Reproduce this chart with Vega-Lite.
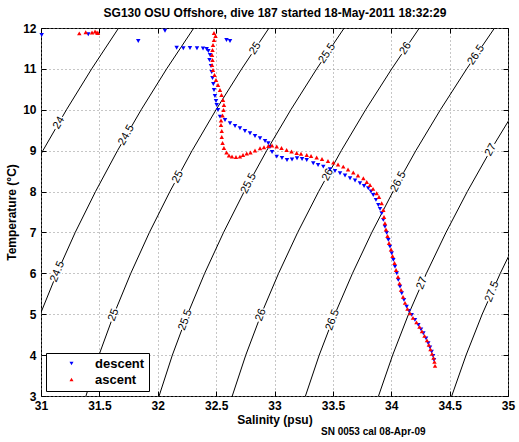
{
 "$schema": "https://vega.github.io/schema/vega-lite/v6.json",
 "width": 467, "height": 368,
 "autosize": {"type": "none"},
 "padding": {"left": 41, "top": 28, "right": 11, "bottom": 46},
 "background": "white",
 "config": {
  "font": "Liberation Sans",
  "view": {"stroke": "black", "strokeWidth": 1},
  "axis": {"labelFont": "Liberation Sans", "labelFontWeight": "bold", "labelFontSize": 12, "labelColor": "black",
           "titleFont": "Liberation Sans", "titleFontWeight": "bold", "titleFontSize": 12, "titleColor": "black",
           "domainColor": "black", "tickColor": "black", "gridColor": "#8c8c8c", "gridDash": [1, 3], "gridOpacity": 1, "gridWidth": 1}
 },
 "title": {"text": "SN 0053 cal 08-Apr-09", "orient": "bottom", "anchor": "start", "frame": "group", "dx": 280,
           "fontSize": 10, "fontWeight": "bold", "font": "Liberation Sans", "color": "black", "offset": 2},
 "datasets": {
  "contours": [
   {"sigma": 24, "T": 6, "S": 30.503}, {"sigma": 24, "T": 7, "S": 30.658}, {"sigma": 24, "T": 8, "S": 30.830}, {"sigma": 24, "T": 9, "S": 31.016}, {"sigma": 24, "T": 10, "S": 31.218}, {"sigma": 24, "T": 11, "S": 31.434}, {"sigma": 24, "T": 12, "S": 31.665},
   {"sigma": 24.5, "T": 3, "S": 30.758}, {"sigma": 24.5, "T": 4, "S": 30.868}, {"sigma": 24.5, "T": 5, "S": 30.994}, {"sigma": 24.5, "T": 6, "S": 31.136}, {"sigma": 24.5, "T": 7, "S": 31.293}, {"sigma": 24.5, "T": 8, "S": 31.467}, {"sigma": 24.5, "T": 9, "S": 31.655}, {"sigma": 24.5, "T": 10, "S": 31.858}, {"sigma": 24.5, "T": 11, "S": 32.076}, {"sigma": 24.5, "T": 12, "S": 32.309},
   {"sigma": 25, "T": 3, "S": 31.385}, {"sigma": 25, "T": 4, "S": 31.4965}, {"sigma": 25, "T": 5, "S": 31.6245}, {"sigma": 25, "T": 6, "S": 31.769}, {"sigma": 25, "T": 7, "S": 31.9285}, {"sigma": 25, "T": 8, "S": 32.104}, {"sigma": 25, "T": 9, "S": 32.294}, {"sigma": 25, "T": 10, "S": 32.499}, {"sigma": 25, "T": 11, "S": 32.719}, {"sigma": 25, "T": 12, "S": 32.953},
   {"sigma": 25.5, "T": 3, "S": 32.0115}, {"sigma": 25.5, "T": 4, "S": 32.125}, {"sigma": 25.5, "T": 5, "S": 32.2555}, {"sigma": 25.5, "T": 6, "S": 32.4017}, {"sigma": 25.5, "T": 7, "S": 32.5635}, {"sigma": 25.5, "T": 8, "S": 32.7406}, {"sigma": 25.5, "T": 9, "S": 32.9328}, {"sigma": 25.5, "T": 10, "S": 33.1398}, {"sigma": 25.5, "T": 11, "S": 33.3613}, {"sigma": 25.5, "T": 12, "S": 33.597},
   {"sigma": 26, "T": 3, "S": 32.638}, {"sigma": 26, "T": 4, "S": 32.754}, {"sigma": 26, "T": 5, "S": 32.886}, {"sigma": 26, "T": 6, "S": 33.035}, {"sigma": 26, "T": 7, "S": 33.1985}, {"sigma": 26, "T": 8, "S": 33.378}, {"sigma": 26, "T": 9, "S": 33.572}, {"sigma": 26, "T": 10, "S": 33.7805}, {"sigma": 26, "T": 11, "S": 34.004}, {"sigma": 26, "T": 12, "S": 34.241},
   {"sigma": 26.5, "T": 3, "S": 33.265}, {"sigma": 26.5, "T": 4, "S": 33.383}, {"sigma": 26.5, "T": 5, "S": 33.517}, {"sigma": 26.5, "T": 6, "S": 33.668}, {"sigma": 26.5, "T": 7, "S": 33.8335}, {"sigma": 26.5, "T": 8, "S": 34.015}, {"sigma": 26.5, "T": 9, "S": 34.2105}, {"sigma": 26.5, "T": 10, "S": 34.421}, {"sigma": 26.5, "T": 11, "S": 34.646}, {"sigma": 26.5, "T": 12, "S": 34.885},
   {"sigma": 27, "T": 3, "S": 33.891}, {"sigma": 27, "T": 4, "S": 34.012}, {"sigma": 27, "T": 5, "S": 34.148}, {"sigma": 27, "T": 6, "S": 34.301}, {"sigma": 27, "T": 7, "S": 34.469}, {"sigma": 27, "T": 8, "S": 34.6515}, {"sigma": 27, "T": 9, "S": 34.849}, {"sigma": 27, "T": 10, "S": 35.062},
   {"sigma": 27.5, "T": 3, "S": 34.518}, {"sigma": 27.5, "T": 4, "S": 34.641}, {"sigma": 27.5, "T": 5, "S": 34.779}, {"sigma": 27.5, "T": 6, "S": 34.934}, {"sigma": 27.5, "T": 7, "S": 35.104}
  ],
  "labels": [
   {"label": "24", "S": 31.153, "T": 9.68},
   {"label": "24.5", "S": 31.732, "T": 9.38},
   {"label": "24.5", "S": 31.142, "T": 6.04},
   {"label": "25", "S": 32.836, "T": 11.5},
   {"label": "25", "S": 32.172, "T": 8.36},
   {"label": "25", "S": 31.622, "T": 4.98},
   {"label": "25.5", "S": 33.451, "T": 11.38},
   {"label": "25.5", "S": 32.779, "T": 8.2},
   {"label": "25.5", "S": 32.237, "T": 4.86},
   {"label": "26", "S": 34.1225, "T": 11.5},
   {"label": "26", "S": 33.4575, "T": 8.41},
   {"label": "26", "S": 32.883, "T": 4.98},
   {"label": "26.5", "S": 34.727, "T": 11.34},
   {"label": "26.5", "S": 34.062, "T": 8.24},
   {"label": "26.5", "S": 33.498, "T": 4.86},
   {"label": "27", "S": 34.853, "T": 9.02},
   {"label": "27", "S": 34.264, "T": 5.76},
   {"label": "27.5", "S": 34.864, "T": 5.55}
  ],
  "profile": [
   {"pass": "descent", "S": 31.006, "T": 11.829}, {"pass": "descent", "S": 31.405, "T": 11.846}, {"pass": "descent", "S": 31.833, "T": 11.682}, {"pass": "descent", "S": 32.062, "T": 11.934},
   {"pass": "descent", "S": 32.589, "T": 11.707}, {"pass": "descent", "S": 32.619, "T": 11.682},
   {"pass": "descent", "S": 32.162, "T": 11.518}, {"pass": "descent", "S": 32.219, "T": 11.504}, {"pass": "descent", "S": 32.276, "T": 11.511}, {"pass": "descent", "S": 32.336, "T": 11.504}, {"pass": "descent", "S": 32.388, "T": 11.499}, {"pass": "descent", "S": 32.419, "T": 11.487},
   {"pass": "descent", "S": 32.433, "T": 11.438}, {"pass": "descent", "S": 32.448, "T": 11.340}, {"pass": "descent", "S": 32.443, "T": 11.218}, {"pass": "descent", "S": 32.456, "T": 11.071}, {"pass": "descent", "S": 32.462, "T": 10.924}, {"pass": "descent", "S": 32.469, "T": 10.778},
   {"pass": "descent", "S": 32.476, "T": 10.631}, {"pass": "descent", "S": 32.482, "T": 10.484}, {"pass": "descent", "S": 32.490, "T": 10.337}, {"pass": "descent", "S": 32.499, "T": 10.215}, {"pass": "descent", "S": 32.505, "T": 10.117}, {"pass": "descent", "S": 32.516, "T": 9.995},
   {"pass": "descent", "S": 32.533, "T": 9.831}, {"pass": "descent", "S": 32.576, "T": 9.751}, {"pass": "descent", "S": 32.619, "T": 9.670}, {"pass": "descent", "S": 32.662, "T": 9.604}, {"pass": "descent", "S": 32.704, "T": 9.548}, {"pass": "descent", "S": 32.747, "T": 9.482},
   {"pass": "descent", "S": 32.790, "T": 9.425}, {"pass": "descent", "S": 32.833, "T": 9.359}, {"pass": "descent", "S": 32.876, "T": 9.303}, {"pass": "descent", "S": 32.919, "T": 9.237}, {"pass": "descent", "S": 32.947, "T": 9.181}, {"pass": "descent", "S": 32.961, "T": 9.090},
   {"pass": "descent", "S": 32.979, "T": 8.968}, {"pass": "descent", "S": 33.019, "T": 8.853}, {"pass": "descent", "S": 33.064, "T": 8.822}, {"pass": "descent", "S": 33.107, "T": 8.773}, {"pass": "descent", "S": 33.150, "T": 8.785}, {"pass": "descent", "S": 33.193, "T": 8.814},
   {"pass": "descent", "S": 33.236, "T": 8.797}, {"pass": "descent", "S": 33.276, "T": 8.773}, {"pass": "descent", "S": 33.332, "T": 8.692}, {"pass": "descent", "S": 33.373, "T": 8.650}, {"pass": "descent", "S": 33.418, "T": 8.609}, {"pass": "descent", "S": 33.475, "T": 8.545},
   {"pass": "descent", "S": 33.518, "T": 8.504}, {"pass": "descent", "S": 33.561, "T": 8.447}, {"pass": "descent", "S": 33.604, "T": 8.394}, {"pass": "descent", "S": 33.647, "T": 8.325}, {"pass": "descent", "S": 33.690, "T": 8.271}, {"pass": "descent", "S": 33.732, "T": 8.203},
   {"pass": "descent", "S": 33.767, "T": 8.137}, {"pass": "descent", "S": 33.803, "T": 8.081}, {"pass": "descent", "S": 33.827, "T": 8.002}, {"pass": "descent", "S": 33.846, "T": 7.917}, {"pass": "descent", "S": 33.869, "T": 7.795}, {"pass": "descent", "S": 33.889, "T": 7.672},
   {"pass": "descent", "S": 33.904, "T": 7.575}, {"pass": "descent", "S": 33.918, "T": 7.469}, {"pass": "descent", "S": 33.932, "T": 7.306}, {"pass": "descent", "S": 33.946, "T": 7.142}, {"pass": "descent", "S": 33.961, "T": 6.988}, {"pass": "descent", "S": 33.975, "T": 6.817},
   {"pass": "descent", "S": 33.989, "T": 6.653}, {"pass": "descent", "S": 34.004, "T": 6.491}, {"pass": "descent", "S": 34.018, "T": 6.328}, {"pass": "descent", "S": 34.032, "T": 6.164}, {"pass": "descent", "S": 34.047, "T": 6.002}, {"pass": "descent", "S": 34.060, "T": 5.839},
   {"pass": "descent", "S": 34.075, "T": 5.675}, {"pass": "descent", "S": 34.090, "T": 5.513}, {"pass": "descent", "S": 34.109, "T": 5.350}, {"pass": "descent", "S": 34.132, "T": 5.186}, {"pass": "descent", "S": 34.152, "T": 5.081}, {"pass": "descent", "S": 34.175, "T": 4.983},
   {"pass": "descent", "S": 34.203, "T": 4.861}, {"pass": "descent", "S": 34.232, "T": 4.738}, {"pass": "descent", "S": 34.255, "T": 4.628}, {"pass": "descent", "S": 34.275, "T": 4.535}, {"pass": "descent", "S": 34.298, "T": 4.408}, {"pass": "descent", "S": 34.317, "T": 4.291},
   {"pass": "descent", "S": 34.332, "T": 4.188}, {"pass": "descent", "S": 34.346, "T": 4.086}, {"pass": "descent", "S": 34.358, "T": 3.980}, {"pass": "descent", "S": 34.366, "T": 3.883},
   {"pass": "ascent", "S": 34.375, "T": 3.736}, {"pass": "ascent", "S": 34.370, "T": 3.834}, {"pass": "ascent", "S": 34.362, "T": 3.932}, {"pass": "ascent", "S": 34.349, "T": 4.029}, {"pass": "ascent", "S": 34.336, "T": 4.139}, {"pass": "ascent", "S": 34.322, "T": 4.249},
   {"pass": "ascent", "S": 34.306, "T": 4.359}, {"pass": "ascent", "S": 34.285, "T": 4.469}, {"pass": "ascent", "S": 34.263, "T": 4.579}, {"pass": "ascent", "S": 34.242, "T": 4.689}, {"pass": "ascent", "S": 34.216, "T": 4.800}, {"pass": "ascent", "S": 34.186, "T": 4.910},
   {"pass": "ascent", "S": 34.161, "T": 5.020}, {"pass": "ascent", "S": 34.139, "T": 5.130}, {"pass": "ascent", "S": 34.118, "T": 5.276}, {"pass": "ascent", "S": 34.101, "T": 5.423}, {"pass": "ascent", "S": 34.084, "T": 5.594}, {"pass": "ascent", "S": 34.071, "T": 5.753},
   {"pass": "ascent", "S": 34.058, "T": 5.912}, {"pass": "ascent", "S": 34.041, "T": 6.083}, {"pass": "ascent", "S": 34.028, "T": 6.254}, {"pass": "ascent", "S": 34.011, "T": 6.425}, {"pass": "ascent", "S": 33.998, "T": 6.584}, {"pass": "ascent", "S": 33.981, "T": 6.743},
   {"pass": "ascent", "S": 33.968, "T": 6.914}, {"pass": "ascent", "S": 33.955, "T": 7.073}, {"pass": "ascent", "S": 33.946, "T": 7.225}, {"pass": "ascent", "S": 33.938, "T": 7.379}, {"pass": "ascent", "S": 33.932, "T": 7.550}, {"pass": "ascent", "S": 33.918, "T": 7.714},
   {"pass": "ascent", "S": 33.895, "T": 7.868}, {"pass": "ascent", "S": 33.875, "T": 7.958}, {"pass": "ascent", "S": 33.844, "T": 8.064}, {"pass": "ascent", "S": 33.818, "T": 8.161}, {"pass": "ascent", "S": 33.790, "T": 8.235}, {"pass": "ascent", "S": 33.761, "T": 8.325},
   {"pass": "ascent", "S": 33.715, "T": 8.394}, {"pass": "ascent", "S": 33.675, "T": 8.467}, {"pass": "ascent", "S": 33.630, "T": 8.540}, {"pass": "ascent", "S": 33.589, "T": 8.609}, {"pass": "ascent", "S": 33.544, "T": 8.663}, {"pass": "ascent", "S": 33.504, "T": 8.707},
   {"pass": "ascent", "S": 33.458, "T": 8.748}, {"pass": "ascent", "S": 33.407, "T": 8.797}, {"pass": "ascent", "S": 33.361, "T": 8.834}, {"pass": "ascent", "S": 33.313, "T": 8.870}, {"pass": "ascent", "S": 33.276, "T": 8.895}, {"pass": "ascent", "S": 33.227, "T": 8.924},
   {"pass": "ascent", "S": 33.190, "T": 8.944}, {"pass": "ascent", "S": 33.146, "T": 8.980}, {"pass": "ascent", "S": 33.104, "T": 9.017}, {"pass": "ascent", "S": 33.060, "T": 9.066}, {"pass": "ascent", "S": 33.019, "T": 9.103}, {"pass": "ascent", "S": 32.979, "T": 9.127},
   {"pass": "ascent", "S": 32.947, "T": 9.115}, {"pass": "ascent", "S": 32.910, "T": 9.083}, {"pass": "ascent", "S": 32.876, "T": 9.059}, {"pass": "ascent", "S": 32.833, "T": 9.005}, {"pass": "ascent", "S": 32.794, "T": 8.956}, {"pass": "ascent", "S": 32.762, "T": 8.932},
   {"pass": "ascent", "S": 32.730, "T": 8.895}, {"pass": "ascent", "S": 32.704, "T": 8.853}, {"pass": "ascent", "S": 32.670, "T": 8.846}, {"pass": "ascent", "S": 32.636, "T": 8.858}, {"pass": "ascent", "S": 32.610, "T": 8.883}, {"pass": "ascent", "S": 32.589, "T": 8.956},
   {"pass": "ascent", "S": 32.567, "T": 9.066}, {"pass": "ascent", "S": 32.555, "T": 9.188}, {"pass": "ascent", "S": 32.548, "T": 9.335}, {"pass": "ascent", "S": 32.548, "T": 9.482}, {"pass": "ascent", "S": 32.542, "T": 9.628}, {"pass": "ascent", "S": 32.542, "T": 9.738},
   {"pass": "ascent", "S": 32.555, "T": 9.861}, {"pass": "ascent", "S": 32.563, "T": 9.995}, {"pass": "ascent", "S": 32.567, "T": 10.117}, {"pass": "ascent", "S": 32.559, "T": 10.240}, {"pass": "ascent", "S": 32.546, "T": 10.362}, {"pass": "ascent", "S": 32.533, "T": 10.484},
   {"pass": "ascent", "S": 32.516, "T": 10.606}, {"pass": "ascent", "S": 32.499, "T": 10.729}, {"pass": "ascent", "S": 32.486, "T": 10.851}, {"pass": "ascent", "S": 32.473, "T": 10.973}, {"pass": "ascent", "S": 32.465, "T": 11.095}, {"pass": "ascent", "S": 32.469, "T": 11.218},
   {"pass": "ascent", "S": 32.465, "T": 11.340}, {"pass": "ascent", "S": 32.469, "T": 11.462}, {"pass": "ascent", "S": 32.473, "T": 11.584}, {"pass": "ascent", "S": 32.482, "T": 11.707}, {"pass": "ascent", "S": 32.495, "T": 11.804}, {"pass": "ascent", "S": 32.482, "T": 11.878},
   {"pass": "ascent", "S": 31.488, "T": 11.878}, {"pass": "ascent", "S": 31.480, "T": 11.890}, {"pass": "ascent", "S": 31.463, "T": 11.914}, {"pass": "ascent", "S": 31.437, "T": 11.890}, {"pass": "ascent", "S": 31.383, "T": 11.895}, {"pass": "ascent", "S": 31.328, "T": 11.870}
  ]
 },
 "layer": [
  {
   "data": {"name": "contours"},
   "mark": {"type": "line", "color": "black", "strokeWidth": 1, "clip": true},
   "encoding": {
    "x": {"field": "S", "type": "quantitative", "scale": {"domain": [31, 35], "nice": false, "zero": false},
          "axis": {"orient": "bottom", "title": "Salinity (psu)", "values": [31, 31.5, 32, 32.5, 33, 33.5, 34, 34.5, 35], "format": "~g",
                   "grid": true, "tickSize": -5, "labelPadding": 9, "labelFlush": false, "titlePadding": 3, "domain": false}},
    "y": {"field": "T", "type": "quantitative", "scale": {"domain": [3, 12], "nice": false, "zero": false},
          "axis": {"orient": "left", "title": "Temperature (°C)", "values": [3, 4, 5, 6, 7, 8, 9, 10, 11, 12], "format": "d",
                   "grid": true, "tickSize": -5, "labelPadding": 10, "labelFlush": false, "titlePadding": 4, "domain": false}},
    "detail": {"field": "sigma", "type": "nominal"},
    "order": {"field": "T", "type": "quantitative"}
   }
  },
  {
   "data": {"name": "labels"},
   "mark": {"type": "point", "shape": "M-1,-0.45L1,-0.45L1,0.45L-1,0.45Z", "filled": true, "color": "white", "opacity": 1, "strokeWidth": 0},
   "encoding": {
    "x": {"field": "S", "type": "quantitative", "axis": null},
    "y": {"field": "T", "type": "quantitative", "axis": null},
    "angle": {"field": "T", "type": "quantitative", "scale": {"domain": [3, 12], "range": [286.7, 304.4]}},
    "size": {"condition": {"test": "length(datum.label) > 2", "value": 440}, "value": 200}
   }
  },
  {
   "data": {"name": "labels"},
   "mark": {"type": "text", "fontSize": 11, "font": "Liberation Sans", "color": "black", "align": "center", "baseline": "middle"},
   "encoding": {
    "x": {"field": "S", "type": "quantitative", "axis": null},
    "y": {"field": "T", "type": "quantitative",
          "axis": {"orient": "right", "title": null, "labels": false, "grid": false, "domain": false, "tickSize": -5, "values": [3, 4, 5, 6, 7, 8, 9, 10, 11, 12]}},
    "text": {"field": "label", "type": "nominal"},
    "angle": {"field": "T", "type": "quantitative", "scale": {"domain": [3, 12], "range": [286.7, 304.4]}}
   }
  },
  {
   "data": {"name": "profile"},
   "mark": {"type": "point", "filled": true, "size": 20, "opacity": 1, "strokeWidth": 0},
   "encoding": {
    "x": {"field": "S", "type": "quantitative",
          "axis": {"orient": "top", "title": "SG130 OSU Offshore, dive 187 started 18-May-2011 18:32:29", "labels": false, "grid": false, "domain": false,
                   "tickSize": -5, "values": [31, 31.5, 32, 32.5, 33, 33.5, 34, 34.5, 35], "titlePadding": 8}},
    "y": {"field": "T", "type": "quantitative", "axis": null},
    "color": {"field": "pass", "type": "nominal", "scale": {"domain": ["descent", "ascent"], "range": ["#0000ff", "#ff0000"]},
              "legend": {"orient": "bottom-left", "title": null, "offset": 5, "strokeColor": "black", "fillColor": "white", "padding": 4,
                         "labelFontSize": 13, "labelFontWeight": "bold", "labelFont": "Liberation Sans", "labelColor": "black",
                         "symbolSize": 16, "rowPadding": 2, "symbolOffset": 15, "labelOffset": 17, "cornerRadius": 0}},
    "shape": {"field": "pass", "type": "nominal", "scale": {"domain": ["descent", "ascent"], "range": ["triangle-down", "triangle-up"]}}
   }
  }
 ],
 "resolve": {"axis": {"x": "independent", "y": "independent"}}
}
